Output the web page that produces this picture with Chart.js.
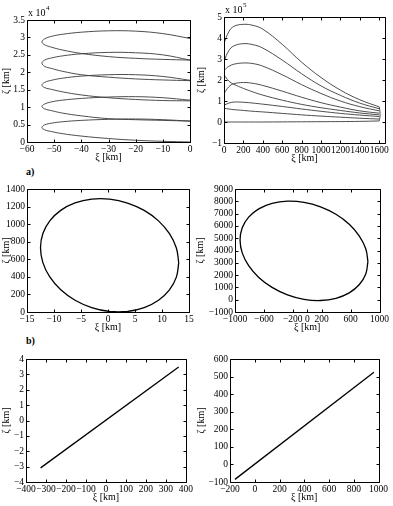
<!DOCTYPE html>
<html>
<head>
<meta charset="utf-8">
<script src="https://cdn.jsdelivr.net/npm/chart.js@4.4.0/dist/chart.umd.min.js"></script>
<style>
html, body { margin: 0; padding: 0; background: #fff; overflow: hidden; }
#fig { position: relative; width: 393px; height: 506px; overflow: hidden; background: #fff; }
#fig canvas { position: absolute; }
.tag { position: absolute; font: bold 10px "Liberation Serif", "Times New Roman", serif; color: #000; }
</style>
</head>
<body>
<div id="fig">
  <div class="tag" style="left:26px;top:166px">a)</div>
  <div class="tag" style="left:26px;top:335px">b)</div>
</div>
<script>
// --- top left: drifting loops (zeta in units of 10^4 km)
const xi1 = [0, -10, -20, -30, -40, -47, -51, -53.5, -54.5, -53.5, -51, -47, -40, -30, -20, -10, 0];
const loop1 = [0.00, 0.02, 0.05, 0.10, 0.17, 0.24, 0.30, 0.35, 0.42, 0.49, 0.54, 0.58, 0.62, 0.65, 0.66, 0.64, 0.60];
const loop2 = [0.60, 0.62, 0.64, 0.67, 0.75, 0.83, 0.90, 0.95, 1.02, 1.09, 1.15, 1.20, 1.25, 1.29, 1.30, 1.27, 1.20];
const loop3 = [1.18, 1.19, 1.22, 1.27, 1.35, 1.44, 1.51, 1.56, 1.63, 1.71, 1.77, 1.83, 1.89, 1.93, 1.93, 1.88, 1.77];
const loop4 = [1.76, 1.78, 1.81, 1.86, 1.93, 2.03, 2.11, 2.17, 2.26, 2.35, 2.41, 2.47, 2.53, 2.57, 2.56, 2.50, 2.35];
const loop5 = [2.35, 2.37, 2.40, 2.45, 2.54, 2.64, 2.72, 2.79, 2.87, 2.96, 3.03, 3.09, 3.15, 3.19, 3.18, 3.11, 2.97];

// --- top right (zeta in units of 10^5 km)
const xi2 = [0, 50, 100, 200, 300, 400, 600, 800, 1000, 1200, 1400, 1600];
const arc1 = [3.75, 4.30, 4.55, 4.65, 4.60, 4.42, 3.70, 2.85, 2.12, 1.52, 1.06, 0.72];
const arc2 = [2.90, 3.40, 3.62, 3.73, 3.68, 3.52, 2.95, 2.30, 1.72, 1.27, 0.90, 0.63];
const arc3 = [2.45, 2.65, 2.75, 2.81, 2.78, 2.66, 2.25, 1.78, 1.36, 1.00, 0.73, 0.53];
const arc4 = [2.25, 1.95, 1.80, 1.60, 1.43, 1.28, 1.04, 0.84, 0.68, 0.55, 0.43, 0.34];
const arc5 = [1.35, 1.68, 1.82, 1.88, 1.84, 1.74, 1.47, 1.18, 0.92, 0.71, 0.53, 0.42];
const arc6 = [0.80, 0.90, 0.95, 0.94, 0.90, 0.85, 0.74, 0.62, 0.51, 0.41, 0.33, 0.26];
const arc7 = [0.65, 0.62, 0.59, 0.55, 0.51, 0.48, 0.41, 0.34, 0.28, 0.23, 0.18, 0.14];
const arc8 = [0, 0, 0, 0, 0, 0, 0.005, 0.01, 0.015, 0.02, 0.03, 0.05];
const xiTurn = [1600, 1608, 1608, 1600];
const zetaTurn = [0.72, 0.50, 0.22, 0.05];

// --- middle: closed orbits
const xi3 = [13.1, 12.66, 11.38, 9.35, 6.7, 3.62, 0.3, -3.02, -6.1, -8.75, -10.78, -12.06, -12.5, -12.06, -10.78, -8.75, -6.1, -3.02, 0.3, 3.62, 6.7, 9.35, 11.38, 12.66, 13.1];
const zeta3 = [560, 728, 891, 1037, 1156, 1240, 1284, 1284, 1241, 1157, 1038, 893, 730, 562, 399, 253, 134, 50, 6, 6, 49, 133, 252, 397, 560];
const xi4 = [840, 810, 721, 581, 397, 184, -45, -274, -487, -671, -811, -900, -930, -900, -811, -671, -487, -274, -45, 184, 397, 581, 721, 810, 840];
const zeta4 = [3087, 4137, 5177, 6133, 6944, 7551, 7914, 8009, 7828, 7385, 6709, 5847, 4857, 3807, 2767, 1811, 1000, 393, 30, -65, 116, 559, 1235, 2097, 3087];

// --- bottom
const xi5 = [-327, 364];
const zeta5 = [-3.08, 3.48];
const xi6 = [-160, 963];
const zeta6 = [-85, 525];

// tick values
const xTicks1 = [-60, -50, -40, -30, -20, -10, 0];
const yTicks1 = [0, 0.5, 1, 1.5, 2, 2.5, 3, 3.5];
const xTicks2 = [0, 200, 400, 600, 800, 1000, 1200, 1400, 1600];
const yTicks2 = [-1, 0, 1, 2, 3, 4, 5];
const xTicks3 = [-15, -10, -5, 0, 5, 10, 15];
const yTicks3 = [0, 200, 400, 600, 800, 1000, 1200, 1400];
const xTicks4 = [-1000, -600, -200, 0, 200, 600, 1000];
const yTicks4 = [-1000, 0, 1000, 2000, 3000, 4000, 5000, 6000, 7000, 8000, 9000];
const xTicks5 = [-400, -300, -200, -100, 0, 100, 200, 300, 400];
const yTicks5 = [-4, -3, -2, -1, 0, 1, 2, 3, 4];
const xTicks6 = [-200, 0, 200, 400, 600, 800, 1000];
const yTicks6 = [-100, 0, 100, 200, 300, 400, 500, 600];

const FONT = '"Liberation Serif", "Times New Roman", "DejaVu Serif", serif';
const zip = (xs, ys) => xs.map((v, i) => ({x: v, y: ys[i]}));
const fmt = v => v < 0 ? '\u2212' + (-v) : String(v);

const frame = {
  id: 'frame',
  afterDraw(chart, args, opts) {
    const {ctx, chartArea: a, scales: {x, y}} = chart;
    const l = Math.round(a.left) + 0.5, r = Math.round(a.right) + 0.5;
    const t = Math.round(a.top) + 0.5, b = Math.round(a.bottom) + 0.5;
    ctx.save();
    ctx.strokeStyle = '#000';
    ctx.lineWidth = 1;
    ctx.beginPath();
    ctx.rect(l, t, r - l, b - t);
    x.ticks.forEach(tk => {
      const px = Math.round(x.getPixelForValue(tk.value)) + 0.5;
      ctx.moveTo(px, b); ctx.lineTo(px, b - 3);
      ctx.moveTo(px, t); ctx.lineTo(px, t + 3);
    });
    y.ticks.forEach(tk => {
      const py = Math.round(y.getPixelForValue(tk.value)) + 0.5;
      ctx.moveTo(l, py); ctx.lineTo(l + 3, py);
      ctx.moveTo(r, py); ctx.lineTo(r - 3, py);
    });
    ctx.stroke();
    if (opts.exp) {
      ctx.fillStyle = '#000';
      ctx.font = '10px ' + FONT;
      ctx.fillText('x 10', a.left + 1, a.top - 4);
      const w = ctx.measureText('x 10').width;
      ctx.font = '7px ' + FONT;
      ctx.fillText(opts.exp, a.left + 1.5 + w, a.top - 10);
    }
    ctx.restore();
  }
};

function panel(box, yw, xr, yr, xt, yt, curves, thin, exp) {
  const PT = 20, PR = 8, XH = 21;
  const cv = document.createElement('canvas');
  const w = yw + (box[2] - box[0]) + PR, h = PT + (box[3] - box[1]) + XH;
  cv.width = w; cv.height = h;
  cv.style.left = (box[0] - yw) + 'px';
  cv.style.top = (box[1] - PT) + 'px';
  cv.style.width = w + 'px'; cv.style.height = h + 'px';
  document.getElementById('fig').appendChild(cv);
  const axis = (range, ticks, title, fit) => ({
    type: 'linear', min: range[0], max: range[1],
    afterBuildTicks: s => { s.ticks = ticks.map(v => ({value: v})); },
    afterFit: fit,
    grid: {display: false, drawTicks: false},
    border: {display: false},
    ticks: {font: {family: FONT, size: 9.5}, color: '#000', padding: 2, autoSkip: false, maxRotation: 0, callback: fmt},
    title: {display: true, text: title, font: {family: FONT, size: 10}, color: '#000', padding: 0}
  });
  return new Chart(cv, {
    type: 'scatter',
    data: {
      datasets: curves.map(c => ({
        data: c.data, showLine: true, pointRadius: 0,
        borderColor: thin ? '#3a3a3a' : '#000', borderWidth: thin ? 0.9 : 1.3,
        tension: c.tension, fill: false
      }))
    },
    options: {
      responsive: false, animation: false, devicePixelRatio: 1,
      layout: {padding: {left: 0, top: PT, right: PR, bottom: 0}},
      plugins: {legend: {display: false}, tooltip: {enabled: false}, frame: {exp: exp}},
      scales: {
        x: axis(xr, xt, '\u03BE [km]', s => { s.height = XH; }),
        y: axis(yr, yt, '\u03B6 [km]', s => { s.width = yw; })
      }
    },
    plugins: [frame]
  });
}

const smooth = d => ({data: d, tension: 0.4});
const straight = d => ({data: d, tension: 0});

function drawAll() {
  panel([27, 20, 190, 142], 27, [-60, 0], [0, 3.5], xTicks1, yTicks1,
    [loop1, loop2, loop3, loop4, loop5].map(z => smooth(zip(xi1, z))), true, '4');
  panel([224, 17, 385, 143], 29, [0, 1660], [-1, 5], xTicks2, yTicks2,
    [arc1, arc2, arc3, arc4, arc5, arc6, arc7, arc8].map(z => smooth(zip(xi2, z)))
      .concat([smooth(zip(xiTurn, zetaTurn))]), true, '5');
  panel([27, 189, 189, 312], 27, [-15, 15], [0, 1400], xTicks3, yTicks3,
    [smooth(zip(xi3, zeta3))], false, null);
  panel([235, 189, 383, 312], 41, [-1000, 1000], [-1000, 9000], xTicks4, yTicks4,
    [smooth(zip(xi4, zeta4))], false, null);
  panel([26, 359, 187, 482], 26, [-400, 400], [-4, 4], xTicks5, yTicks5,
    [straight(zip(xi5, zeta5))], false, null);
  panel([230, 359, 382, 482], 35, [-200, 1000], [-100, 600], xTicks6, yTicks6,
    [straight(zip(xi6, zeta6))], false, null);
}

document.fonts.load('10px "Liberation Serif"').then(drawAll, drawAll);
</script>
</body>
</html>
